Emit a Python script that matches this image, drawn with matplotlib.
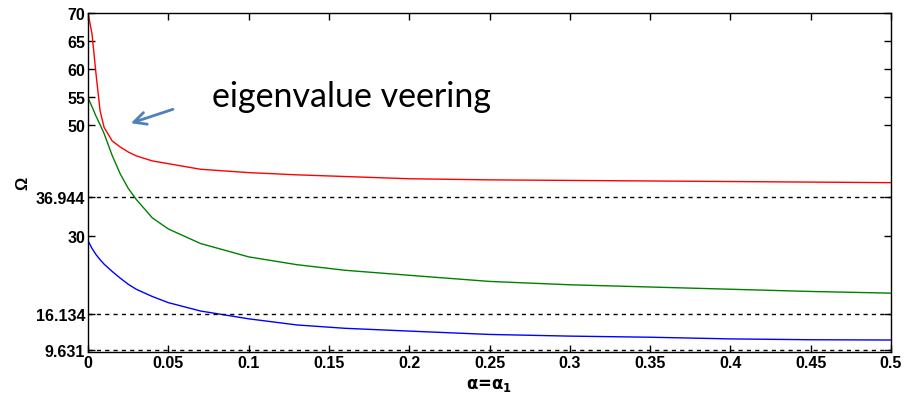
import numpy as np
from matplotlib import pyplot as plt

# values
alpha = [0, 0.0025, 0.005, 0.0075, 0.01, 0.015, 0.02, 0.025, 0.03, 0.04, 0.05,
         0.07, 0.1, 0.13, 0.16, 0.2, 0.25, 0.3, 0.35, 0.4, 0.45, 0.5]
omega_red = [70, 66.2, 59.0, 52.5, 49.5, 47.1, 46.0, 45.1, 44.4, 43.5, 43.0,
             42.0, 41.4, 41.0, 40.7, 40.3, 40.1, 40.0, 39.9, 39.8, 39.7, 39.6]
omega_green = [54.8, 53.2, 51.5, 50.0, 48.4, 44.5, 41.2, 38.6, 36.6, 33.3, 31.3,
               28.7, 26.3, 24.9, 23.9, 23.0, 21.9, 21.3, 20.9, 20.5, 20.1, 19.8]
omega_blue = [29.2, 27.8, 26.7, 25.8, 25.0, 23.7, 22.5, 21.4, 20.5, 19.2, 18.1,
              16.6, 15.2, 14.1, 13.5, 13.0, 12.4, 12.1, 11.9, 11.6, 11.45, 11.4]
ref_levels = [36.944, 16.134, 9.631]
yticks = [9.631, 16.134, 30, 36.944, 50, 55, 60, 65, 70]
ytick_labels = ["9.631", "16.134", "30", "36.944", "50", "55", "60", "65", "70"]
xticks = [0, 0.05, 0.1, 0.15, 0.2, 0.25, 0.3, 0.35, 0.4, 0.45, 0.5]
xtick_labels = ["0", "0.05", "0.1", "0.15", "0.2", "0.25", "0.3", "0.35", "0.4", "0.45", "0.5"]

tick_font = dict(family='Liberation Sans', weight='bold', size=11.5)

fig = plt.figure(figsize=(9.16, 4.06), dpi=100)
ax = fig.add_axes([0.0961, 0.1305, 0.8766, 0.835])

ax.plot(alpha, omega_red, color='red', lw=1)
ax.plot(alpha, omega_green, color='green', lw=1)
ax.plot(alpha, omega_blue, color='blue', lw=1)
for lev in ref_levels:
    ax.axhline(lev, color='black', ls=(0, (3, 3)), lw=1)

ax.set_xlim(0, 0.5)
ax.set_ylim(9.25, 70)
ax.set_xticks(xticks)
ax.set_xticklabels(xtick_labels, fontdict=tick_font)
ax.set_yticks(yticks)
ax.set_yticklabels(ytick_labels, fontdict=tick_font)
ax.tick_params(direction='in', top=True, right=True, length=5, width=1, pad=2)
for s in ax.spines.values():
    s.set_linewidth(1)

ax.set_xlabel(r"$\mathbf{\alpha}$=$\mathbf{\alpha_1}$", fontsize=12, fontweight='bold', labelpad=4)
ax.set_ylabel("Ω", fontsize=12, fontweight='bold', family='Liberation Sans', labelpad=4)

ax.text(0.0775, 55.2, "eigenvalue veering", fontsize=24.5, family='Lato', va='center')
ax.annotate("", xy=(0.025, 50.1), xytext=(0.0545, 52.9),
            arrowprops=dict(arrowstyle='->', color='#4F81BD', lw=2, mutation_scale=22))

fig.savefig("out.png", dpi=100)
